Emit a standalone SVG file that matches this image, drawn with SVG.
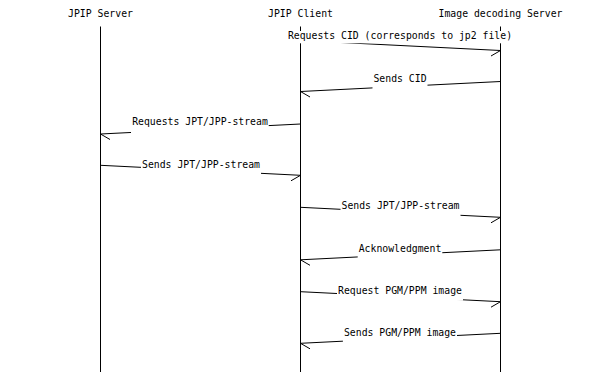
<svg xmlns="http://www.w3.org/2000/svg" width="600" height="372" viewBox="0 0 600 372">
<style>
text{font-family:"DejaVu Sans Mono","Liberation Mono",monospace;font-size:9.8px;fill:#000;text-anchor:middle}
.life{stroke:#000;stroke-width:1;fill:none}
.arc{stroke:#000;stroke-width:1;fill:none}
.bg{fill:#fff;stroke:none}
</style>
<rect width="600" height="372" fill="#fff"/>
<g id="jpip-server">
<text x="100.5" y="17.3">JPIP Server</text>
<line class="life" x1="100.5" y1="26.5" x2="100.5" y2="372"/>
</g>
<g id="jpip-client">
<text x="300.5" y="17.3">JPIP Client</text>
<line class="life" x1="300.5" y1="26.5" x2="300.5" y2="372"/>
</g>
<g id="image-decoding-server">
<text x="500.5" y="17.3">Image decoding Server</text>
<line class="life" x1="500.5" y1="26.5" x2="500.5" y2="372"/>
</g>
<g id="connectors">
<g id="m1">
<line class="arc" x1="300.5" y1="40.5" x2="500.5" y2="50.5"/>
<line class="arc" x1="500.5" y1="50.5" x2="491" y2="56"/>
<rect class="bg" x="286.9" y="31" width="226.2" height="12.3"/>
<text x="400" y="39.3">Requests CID (corresponds to jp2 file)</text>
</g>
<g id="m2">
<line class="arc" x1="500.5" y1="81.5" x2="300.5" y2="91.5"/>
<line class="arc" x1="300.5" y1="91.5" x2="310" y2="97"/>
<rect class="bg" x="372.5" y="73.7" width="55" height="16.8"/>
<text x="400" y="81.7">Sends CID</text>
</g>
<g id="m3">
<line class="arc" x1="300.5" y1="124" x2="100.5" y2="134"/>
<line class="arc" x1="100.5" y1="134" x2="110" y2="139.5"/>
<rect class="bg" x="131" y="116.7" width="137.7" height="16.3"/>
<text x="200" y="124.7">Requests JPT/JPP-stream</text>
</g>
<g id="m4">
<line class="arc" x1="100.5" y1="165.3" x2="300.5" y2="175.3"/>
<line class="arc" x1="300.5" y1="175.3" x2="291" y2="180.8"/>
<rect class="bg" x="141" y="159.7" width="120" height="14.6"/>
<text x="201" y="167.7">Sends JPT/JPP-stream</text>
</g>
<g id="m5">
<line class="arc" x1="300.5" y1="207.3" x2="500.5" y2="217.3"/>
<line class="arc" x1="500.5" y1="217.3" x2="491" y2="222.8"/>
<rect class="bg" x="340.5" y="201.3" width="120" height="15"/>
<text x="400.5" y="209.3">Sends JPT/JPP-stream</text>
</g>
<g id="m6">
<line class="arc" x1="500.5" y1="249.8" x2="300.5" y2="259.8"/>
<line class="arc" x1="300.5" y1="259.8" x2="310" y2="265.3"/>
<rect class="bg" x="357.7" y="243.7" width="84.6" height="15.1"/>
<text x="400" y="251.7">Acknowledgment</text>
</g>
<g id="m7">
<line class="arc" x1="300.5" y1="291.7" x2="500.5" y2="301.7"/>
<line class="arc" x1="500.5" y1="301.7" x2="491" y2="307.2"/>
<rect class="bg" x="337" y="286" width="126" height="14.7"/>
<text x="400" y="294">Request PGM/PPM image</text>
</g>
<g id="m8">
<line class="arc" x1="500.5" y1="333.3" x2="300.5" y2="343.3"/>
<line class="arc" x1="300.5" y1="343.3" x2="310" y2="348.8"/>
<rect class="bg" x="342.9" y="327.7" width="114.1" height="14.6"/>
<text x="400" y="335.7">Sends PGM/PPM image</text>
</g>
</g>
</svg>
